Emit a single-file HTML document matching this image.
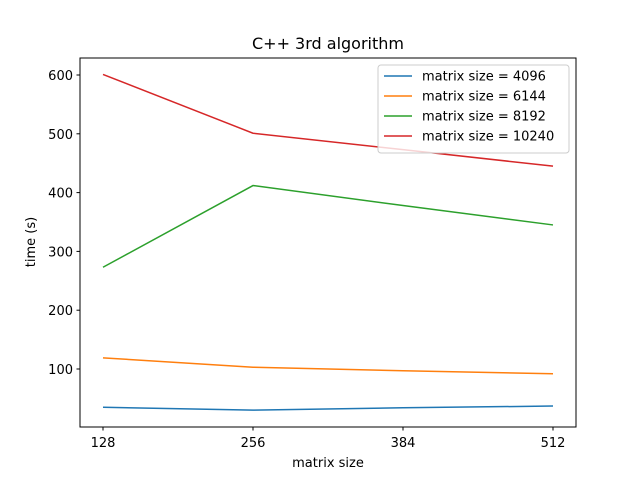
<!DOCTYPE html>
<html><head><meta charset="utf-8"><style>
body{margin:0;background:#fff;}
svg text{font-family:"DejaVu Sans","Liberation Sans",sans-serif;}
</style></head><body>
<svg id="chart" width="640" height="480">
<rect x="0" y="0" width="640" height="480" fill="#fff"/>
<text x="328" y="49" font-size="16" text-anchor="middle">C++ 3rd algorithm</text>
<g id="plot"></g>
<rect x="80" y="58" width="496" height="369" fill="none" stroke="#000" stroke-width="1"/>
<text x="328" y="467" font-size="13" text-anchor="middle">matrix size</text>
<text transform="translate(35,242) rotate(-90)" font-size="13" text-anchor="middle">time (s)</text>
</svg>
<script>
const categories=[128,256,384,512];
const seriesNames=["matrix size = 4096","matrix size = 6144","matrix size = 8192","matrix size = 10240"];
const s4096=[35,30,34,37];
const s6144=[119,103,97,92];
const s8192=[273,412,378,345];
const s10240=[601,501,473,445];
const yTicks=[100,200,300,400,500,600];
const colors=["#1f77b4","#ff7f0e","#2ca02c","#d62728"];
const series=[s4096,s6144,s8192,s10240];
const NS="http://www.w3.org/2000/svg";
const g=document.getElementById('plot');
function xs(v){return 103+(v-128)*450/384;}
function ys(v){return 427.8-v*0.588;}
function mk(t,a){const e=document.createElementNS(NS,t);for(const k in a)e.setAttribute(k,a[k]);g.appendChild(e);return e;}
categories.forEach(c=>{
 const t=mk('line',{x1:xs(c),x2:xs(c),y1:427,y2:430.5,stroke:'#000'});
 
 
 const l=mk('text',{x:xs(c),y:447,'font-size':13,'text-anchor':'middle'});l.textContent=c;
 
 
});
yTicks.forEach(v=>{
 const t=mk('line',{x1:76.5,x2:80,y1:ys(v),y2:ys(v),stroke:'#000'});
 
 
 const l=mk('text',{x:73,y:ys(v)+5,'font-size':13,'text-anchor':'end'});l.textContent=v;
 
 
});
series.forEach((s,i)=>{
 const p=mk('polyline',{points:s.map((v,j)=>xs(categories[j])+','+ys(v)).join(' '),fill:'none',stroke:colors[i],'stroke-width':1.5});
 
 
});
const lg=mk('rect',{x:378,y:65,width:191,height:88,rx:3,fill:'#fff','fill-opacity':0.8,stroke:'#ccc'});


seriesNames.forEach((n,i)=>{
 const y=76+i*20;
 const l=mk('line',{x1:384,x2:412,y1:y,y2:y,stroke:colors[i],'stroke-width':1.5});
 
 
 const t=mk('text',{x:422,y:y+4.5,'font-size':13});t.textContent=n;
 
 
});
</script>
</body></html>
